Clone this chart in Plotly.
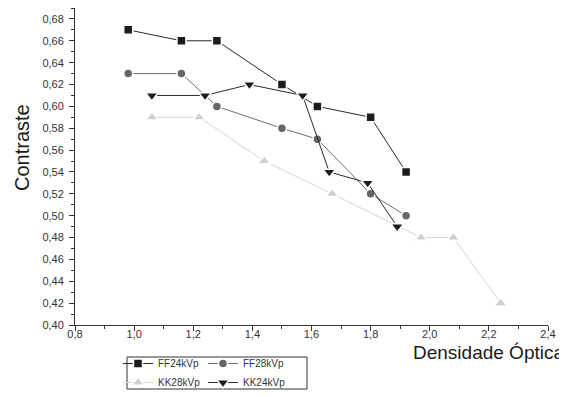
import plotly.graph_objects as go

ff24_x = [0.98, 1.16, 1.28, 1.50, 1.62, 1.80, 1.92]
ff24_y = [0.67, 0.66, 0.66, 0.62, 0.60, 0.59, 0.54]
ff28_x = [0.98, 1.16, 1.28, 1.50, 1.62, 1.80, 1.92]
ff28_y = [0.63, 0.63, 0.60, 0.58, 0.57, 0.52, 0.50]
kk28_x = [1.06, 1.22, 1.44, 1.67, 1.97, 2.08, 2.24]
kk28_y = [0.59, 0.59, 0.55, 0.52, 0.48, 0.48, 0.42]
kk24_x = [1.06, 1.24, 1.39, 1.57, 1.66, 1.79, 1.89]
kk24_y = [0.61, 0.61, 0.62, 0.61, 0.54, 0.53, 0.49]

x_ticks = [0.8, 1.0, 1.2, 1.4, 1.6, 1.8, 2.0, 2.2, 2.4]
x_minor = [0.9, 1.1, 1.3, 1.5, 1.7, 1.9, 2.1, 2.3]
y_ticks = [0.40, 0.42, 0.44, 0.46, 0.48, 0.50, 0.52, 0.54, 0.56, 0.58, 0.60,
           0.62, 0.64, 0.66, 0.68]
y_minor = [0.41, 0.43, 0.45, 0.47, 0.49, 0.51, 0.53, 0.55, 0.57, 0.59, 0.61,
           0.63, 0.65, 0.67, 0.69]

# page body has an 8px margin, so the figure is drawn from (8, 8)
OFF = 8
W, H = 567 - OFF, 397 - OFF
ML, MR, MT, MB = 75 - OFF, 19, 0, 14
PW, PH = W - ML - MR, H - MT - MB


def px(x):  # screen x -> paper fraction
    return (x - OFF - ML) / PW


def py(y):  # screen y -> paper fraction
    return (H - MB - (y - OFF)) / PH


fig = go.Figure()


def add(name, x, y, sym, size, mcol, lcol, legend):
    fig.add_trace(go.Scatter(
        x=x, y=y, name=name, mode="lines+markers",
        line=dict(color=lcol, width=1),
        marker=dict(symbol=sym, size=size, color=mcol,
                    line=dict(color="white", width=1.5)),
        legend=legend,
    ))


add("FF24kVp", ff24_x, ff24_y, "square", 9, "#1c1c1c", "#2a2a2a", "legend")
add("KK28kVp", kk28_x, kk28_y, "triangle-up", 11, "#cfcfcf", "#d4d4d4", "legend")
add("FF28kVp", ff28_x, ff28_y, "circle", 9, "#666666", "#6e6e6e", "legend2")
add("KK24kVp", kk24_x, kk24_y, "triangle-down", 11, "#1c1c1c", "#2a2a2a", "legend2")

axis_common = dict(
    showgrid=False, zeroline=False, showline=True, linecolor="#333333", linewidth=1,
    ticks="outside", ticklen=5, tickcolor="#333333", tickwidth=1,
    tickfont=dict(family="Liberation Sans, Arial, sans-serif", size=11, color="#333333"),
)

fig.update_xaxes(range=[0.8, 2.4], tickmode="array", tickvals=x_ticks, tickformat=".1f",
                 ticklabelstandoff=-6,
                 minor=dict(tickmode="array", tickvals=x_minor, ticks="outside",
                            ticklen=3, tickcolor="#333333"),
                 **axis_common)
fig.update_yaxes(range=[0.40, 0.69], domain=[py(325), 1],
                 tickmode="array", tickvals=y_ticks, tickformat=".2f",
                 ticklabelstandoff=3,
                 minor=dict(tickmode="array", tickvals=y_minor, ticks="outside",
                            ticklen=3, tickcolor="#333333"),
                 **axis_common)

legend_font = dict(family="Liberation Sans, Arial, sans-serif", size=10, color="#333333")
LEG_TOP = 349
fig.update_layout(
    width=W, height=H,
    margin=dict(l=ML, r=MR, t=MT, b=MB),
    plot_bgcolor="white", paper_bgcolor="white",
    separators=", ",
    legend=dict(x=px(118), y=py(LEG_TOP), xanchor="left", yanchor="top", orientation="v",
                font=legend_font, bgcolor="rgba(0,0,0,0)", tracegroupgap=0,
                itemwidth=30),
    legend2=dict(x=px(203), y=py(LEG_TOP), xanchor="left", yanchor="top", orientation="v",
                 font=legend_font, bgcolor="rgba(0,0,0,0)", tracegroupgap=0,
                 itemwidth=30),
    shapes=[dict(type="rect", xref="paper", yref="paper",
                 x0=px(127), x1=px(307), y0=py(389), y1=py(357),
                 line=dict(color="#333333", width=1))],
    annotations=[
        dict(text="Contraste", xref="paper", yref="paper",
             x=px(22), y=py(148), textangle=-90,
             showarrow=False, xanchor="center", yanchor="middle",
             font=dict(family="Liberation Sans, Arial, sans-serif", size=20, color="#1a1a1a")),
        dict(text="Densidade Óptica", xref="paper", yref="paper",
             x=px(566), y=py(352),
             showarrow=False, xanchor="right", yanchor="middle",
             font=dict(family="Liberation Sans, Arial, sans-serif", size=19, color="#1a1a1a")),
    ],
)

fig.write_html("out.html")
